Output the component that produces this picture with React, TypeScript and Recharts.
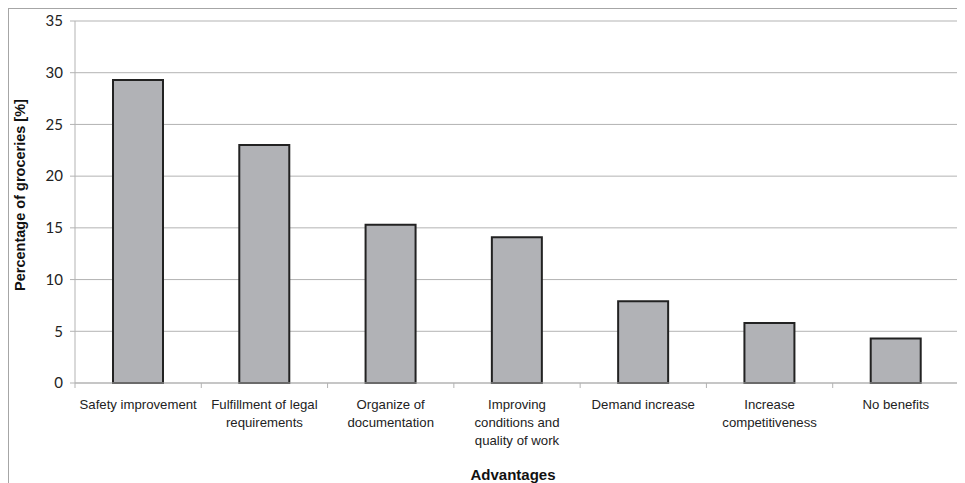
import React from "react";
import { BarChart, Bar, XAxis, YAxis, CartesianGrid, Label } from "recharts";

// Advantages reported by groceries, share in percent
const categories = [
  "Safety improvement",
  "Fulfillment of legal requirements",
  "Organize of documentation",
  "Improving conditions and quality of work",
  "Demand increase",
  "Increase competitiveness",
  "No benefits",
];

// how each category label is broken over lines under the axis
const tickLines = [
  ["Safety improvement"],
  ["Fulfillment of legal", "requirements"],
  ["Organize of", "documentation"],
  ["Improving", "conditions and", "quality of work"],
  ["Demand increase"],
  ["Increase", "competitiveness"],
  ["No benefits"],
];

const shares = [29.3, 23.0, 15.3, 14.1, 7.9, 5.8, 4.3];

const yTicks = [0, 5, 10, 15, 20, 25, 30, 35];

const data = categories.map((name, i) => ({ name, share: shares[i] }));

const GRID = "#b3b3b3";
const LABEL_FONT = "'Liberation Sans', Arial, sans-serif";

function CategoryTick(props: any) {
  const { x, y, payload, index } = props;
  const half = payload?.offset ?? 63;
  const lines = tickLines[index] ?? [payload.value];
  return (
    <g>
      <line x1={x - half} x2={x - half} y1={y} y2={y + 5} stroke={GRID} />
      {index === categories.length - 1 && (
        <line x1={x + half} x2={x + half} y1={y} y2={y + 5} stroke={GRID} />
      )}
      <text x={x} y={y + 26} textAnchor="middle" fontFamily={LABEL_FONT} fontSize={13.2} fill="#222">
        {lines.map((line, i) => (
          <tspan key={i} x={x} dy={i === 0 ? 0 : 18}>
            {line}
          </tspan>
        ))}
      </text>
    </g>
  );
}

export default function App() {
  return (
    <div
      style={{
        width: 956,
        height: 474,
        borderTop: "1px solid #a6a6a6",
        borderLeft: "1px solid #a6a6a6",
        background: "#fff",
      }}
    >
      <BarChart
        width={956}
        height={474}
        data={data}
        margin={{ top: 12, right: 6, left: 0, bottom: 0 }}
      >
        <CartesianGrid vertical={false} stroke={GRID} strokeWidth={1} />
        <XAxis
          dataKey="name"
          height={100}
          interval={0}
          stroke={GRID}
          tickSize={0}
          tickMargin={0}
          tick={<CategoryTick />}
        >
          <Label
            value="Advantages"
            position="insideBottom"
            offset={3}
            dx={-4}
            style={{ fontFamily: LABEL_FONT, fontSize: 15, fontWeight: 700, fill: "#111" }}
          />
        </XAxis>
        <YAxis
          width={66}
          domain={[0, 35]}
          ticks={yTicks}
          interval={0}
          stroke={GRID}
          tickSize={5}
          tickMargin={7}
          tick={{ fontFamily: "Lato, 'Open Sans', sans-serif", fontSize: 15, fill: "#222" }}
        >
          <Label
            content={() => (
              <text
                x={16}
                y={186}
                transform="rotate(-90, 16, 186)"
                textAnchor="middle"
                fontFamily={LABEL_FONT}
                fontSize={14.5}
                fontWeight={700}
                fill="#111"
              >
                Percentage of groceries [%]
              </text>
            )}
          />
        </YAxis>
        <Bar
          dataKey="share"
          barSize={50}
          fill="#b1b2b6"
          stroke="#222"
          strokeWidth={2}
          isAnimationActive={false}
        />
      </BarChart>
    </div>
  );
}
